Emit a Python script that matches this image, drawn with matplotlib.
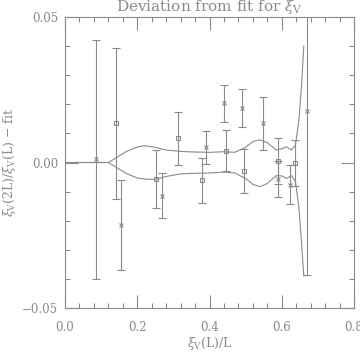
import matplotlib.pyplot as plt
from matplotlib.ticker import MultipleLocator
import numpy as np

plt.rcParams['font.family'] = ['DejaVu Serif']
plt.rcParams['mathtext.fontset'] = 'dejavuserif'

grey = '#8a8a8a'

# crosses (L data)
cross_x = [0.086, 0.155, 0.268, 0.390, 0.441, 0.4905, 0.548, 0.590, 0.622, 0.6686]
cross_y = [0.0011, -0.0215, -0.0114, 0.0052, 0.0203, 0.0187, 0.0135, -0.0057, -0.0077, 0.0177]
cross_err = [0.041, 0.0155, 0.0077, 0.0057, 0.0064, 0.0066, 0.0091, 0.0063, 0.0067, 0.0565]

# squares
sq_x = [0.142, 0.251, 0.313, 0.378, 0.447, 0.496, 0.590, 0.636]
sq_y = [0.0135, -0.0058, 0.0083, -0.0061, 0.0041, -0.0029, 0.0005, -0.0002]
sq_err = [0.026, 0.010, 0.009, 0.0077, 0.0069, 0.0077, 0.0079, 0.0079]

# fit error band
band_x = [0.0, 0.12, 0.14, 0.17, 0.20, 0.22, 0.25, 0.28, 0.32, 0.36, 0.40, 0.44,
          0.47, 0.50, 0.52, 0.54, 0.56, 0.585, 0.60, 0.613, 0.627, 0.638, 0.648,
          0.655, 0.661]
band_up = [0.0, 0.0, 0.0015, 0.0038, 0.0053, 0.0058, 0.0052, 0.0043, 0.0038, 0.0036,
           0.0035, 0.0037, 0.0035, 0.0052, 0.0072, 0.0078, 0.0068, 0.0043, 0.0047,
           0.0054, 0.0043, 0.0060, 0.0150, 0.0270, 0.0400]
band_lo = [0.0, 0.0, -0.0015, -0.0038, -0.0053, -0.0057, -0.0058, -0.0048, -0.0039, -0.0037,
           -0.0036, -0.0033, -0.0036, -0.0055, -0.0075, -0.0083, -0.0072, -0.0045, -0.0046,
           -0.0055, -0.0045, -0.0065, -0.0160, -0.0280, -0.0390]

fig = plt.figure(figsize=(3.6, 3.6), dpi=100)
ax = fig.add_axes([0.1806, 0.1444, 0.8027, 0.8084])

ax.plot(band_x, band_up, color=grey, lw=0.8)
ax.plot(band_x, band_lo, color=grey, lw=0.8)

ax.errorbar(cross_x, cross_y, yerr=cross_err, fmt='x', color=grey, ms=3.5, mew=0.8,
            elinewidth=0.8, capsize=3.2, capthick=0.8)
ax.errorbar(sq_x, sq_y, yerr=sq_err, fmt='s', color=grey, mfc='none', ms=3.5, mew=0.8,
            elinewidth=0.8, capsize=3.2, capthick=0.8)

ax.set_xlim(0, 0.8)
ax.set_ylim(-0.05, 0.05)
ax.xaxis.set_major_locator(MultipleLocator(0.2))
ax.xaxis.set_minor_locator(MultipleLocator(0.04))
ax.yaxis.set_major_locator(MultipleLocator(0.05))
ax.yaxis.set_minor_locator(MultipleLocator(0.01))
ax.xaxis.set_major_formatter(lambda v, p: f'{v:.1f}')
ax.yaxis.set_major_formatter(lambda v, p: f'{v:.2f}'.replace('-', '\u2212'))

ax.tick_params(which='both', direction='in', top=True, right=True, colors=grey,
               labelsize=8.5, width=0.8)
ax.tick_params(axis='x', which='major', length=9.5, pad=9)
ax.tick_params(axis='y', which='major', length=9.5, pad=5)
ax.tick_params(which='minor', length=3.5)
for s in ax.spines.values():
    s.set_color(grey)
    s.set_linewidth(0.8)

ax.set_title(r'Deviation from fit for $\xi_{\rm V}$', color=grey, fontsize=11, pad=4)
ax.set_xlabel(r'$\xi_{\rm V}$(L)/L', color=grey, fontsize=9, labelpad=1)
ax.set_ylabel(r'$\xi_{\rm V}$(2L)/$\xi_{\rm V}$(L) $-$ fit', color=grey, fontsize=9,
              labelpad=3)

fig.savefig('out.png', dpi=100)
